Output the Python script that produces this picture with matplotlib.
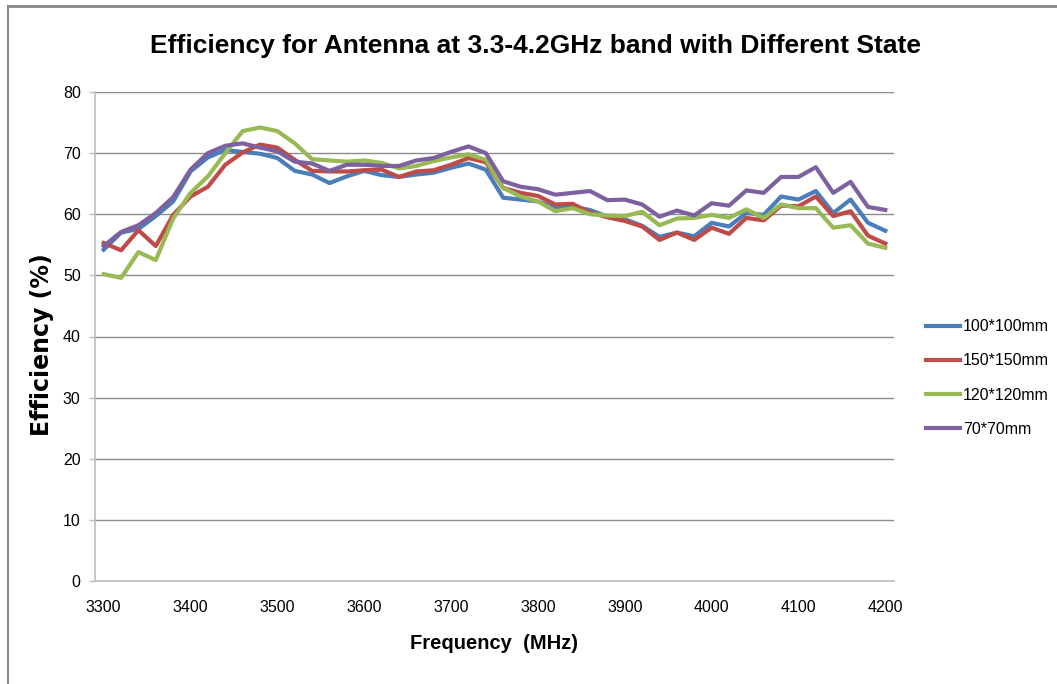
import matplotlib
matplotlib.use("Agg")
import matplotlib.pyplot as plt
from matplotlib.lines import Line2D

freq = list(range(3300, 4201, 20))

eff_100 = [54.2, 57.0, 57.6, 59.7, 62.1, 67.0, 69.3, 70.5, 70.2, 69.9, 69.2, 67.1, 66.5, 65.1, 66.2,
           67.1, 66.4, 66.1, 66.5, 66.8, 67.6, 68.3, 67.3, 62.7, 62.4, 62.1, 61.0, 61.2, 60.7, 59.6,
           59.2, 58.1, 56.3, 57.0, 56.4, 58.6, 58.0, 60.2, 59.9, 62.9, 62.4, 63.8, 60.2, 62.4, 58.6, 57.3]
eff_150 = [55.3, 54.1, 57.4, 54.8, 59.9, 62.9, 64.5, 68.1, 70.1, 71.4, 70.9, 68.9, 67.1, 67.0, 67.0,
           67.2, 67.3, 66.1, 67.0, 67.2, 68.1, 69.2, 68.5, 64.3, 63.5, 63.0, 61.6, 61.7, 60.3, 59.5,
           58.9, 58.0, 55.8, 57.0, 55.8, 57.8, 56.8, 59.4, 59.0, 61.4, 61.3, 62.9, 59.7, 60.5, 56.5, 55.2]
eff_120 = [50.2, 49.6, 53.8, 52.5, 59.3, 63.5, 66.2, 70.0, 73.6, 74.2, 73.6, 71.6, 69.0, 68.8, 68.6,
           68.8, 68.4, 67.5, 67.9, 68.7, 69.3, 69.8, 68.9, 64.3, 62.9, 62.1, 60.5, 61.0, 60.0, 59.8,
           59.7, 60.4, 58.2, 59.3, 59.4, 59.9, 59.4, 60.8, 59.4, 61.6, 61.0, 61.0, 57.8, 58.2, 55.2, 54.5]
eff_70 = [54.8, 57.1, 58.2, 60.2, 62.8, 67.3, 70.0, 71.2, 71.6, 70.9, 70.3, 68.6, 68.3, 67.1, 68.1,
          68.1, 67.9, 67.9, 68.8, 69.2, 70.2, 71.1, 70.0, 65.4, 64.5, 64.1, 63.2, 63.5, 63.8, 62.3,
          62.4, 61.6, 59.6, 60.6, 59.8, 61.8, 61.4, 63.9, 63.5, 66.1, 66.1, 67.7, 63.5, 65.3, 61.2, 60.7]

series_labels = ["100*100mm", "150*150mm", "120*120mm", "70*70mm"]
series_colors = ["#4A7EBB", "#BE4B48", "#98B954", "#7D60A0"]
x_ticks = list(range(3300, 4201, 100))
y_ticks = list(range(0, 81, 10))

title = "Efficiency for Antenna at 3.3-4.2GHz band with Different State"

plt.rcParams["font.family"] = ["Liberation Sans", "DejaVu Sans"]

fig = plt.figure(figsize=(10.57, 6.84), dpi=100)
ax = fig.add_axes([95 / 1057, 1 - 581 / 684, (894 - 95) / 1057, (581 - 92) / 684])

for vals, lab, col in zip([eff_100, eff_150, eff_120, eff_70], series_labels, series_colors):
    ax.plot(freq, vals, color=col, lw=3.0, label=lab, solid_joinstyle="round")

ax.set_xlim(3290, 4210)
ax.set_ylim(0, 80)
ax.set_xticks(x_ticks)
ax.set_yticks(y_ticks)
ax.tick_params(axis="x", length=0, pad=14, labelsize=11.5, colors="#000000")
ax.tick_params(axis="y", length=4.3, width=1, color="#BFBFBF", pad=6, labelsize=11.5)
ax.yaxis.grid(True, color="#8C8C8C", lw=1.0)
ax.set_axisbelow(True)
for s in ["top", "right"]:
    ax.spines[s].set_visible(False)
for s in ["left", "bottom"]:
    ax.spines[s].set_color("#BFBFBF")
    ax.spines[s].set_linewidth(1.2)

ax.set_xlabel("Frequency  (MHz)", fontsize=14.5, fontweight="bold")
ax.xaxis.set_label_coords(0.5, -(634 - 581) / 489)
ax.set_ylabel("Efficiency (%)", fontsize=17, fontweight="bold", family=["DejaVu Sans"])
ax.yaxis.set_label_coords(-(95 - 54) / 799, (581 - 345) / 489)

fig.text(535 / 1057, 1 - 46 / 684, title, ha="center", va="center", fontsize=19, fontweight="bold")

leg = fig.legend(loc="center left", bbox_to_anchor=(926 / 1057, 1 - 378 / 684), frameon=False,
                 fontsize=11.5, handlelength=2.1, handletextpad=0.2, labelspacing=1.2,
                 borderpad=0, borderaxespad=0)

fig.add_artist(Line2D([8 / 1057, 1], [1 - 6 / 684, 1 - 6 / 684], color="#888888", lw=2.0,
                      transform=fig.transFigure))
fig.add_artist(Line2D([8 / 1057, 8 / 1057], [0, 1 - 6 / 684], color="#888888", lw=1.5,
                      transform=fig.transFigure))

fig.savefig("out.png", dpi=100)
